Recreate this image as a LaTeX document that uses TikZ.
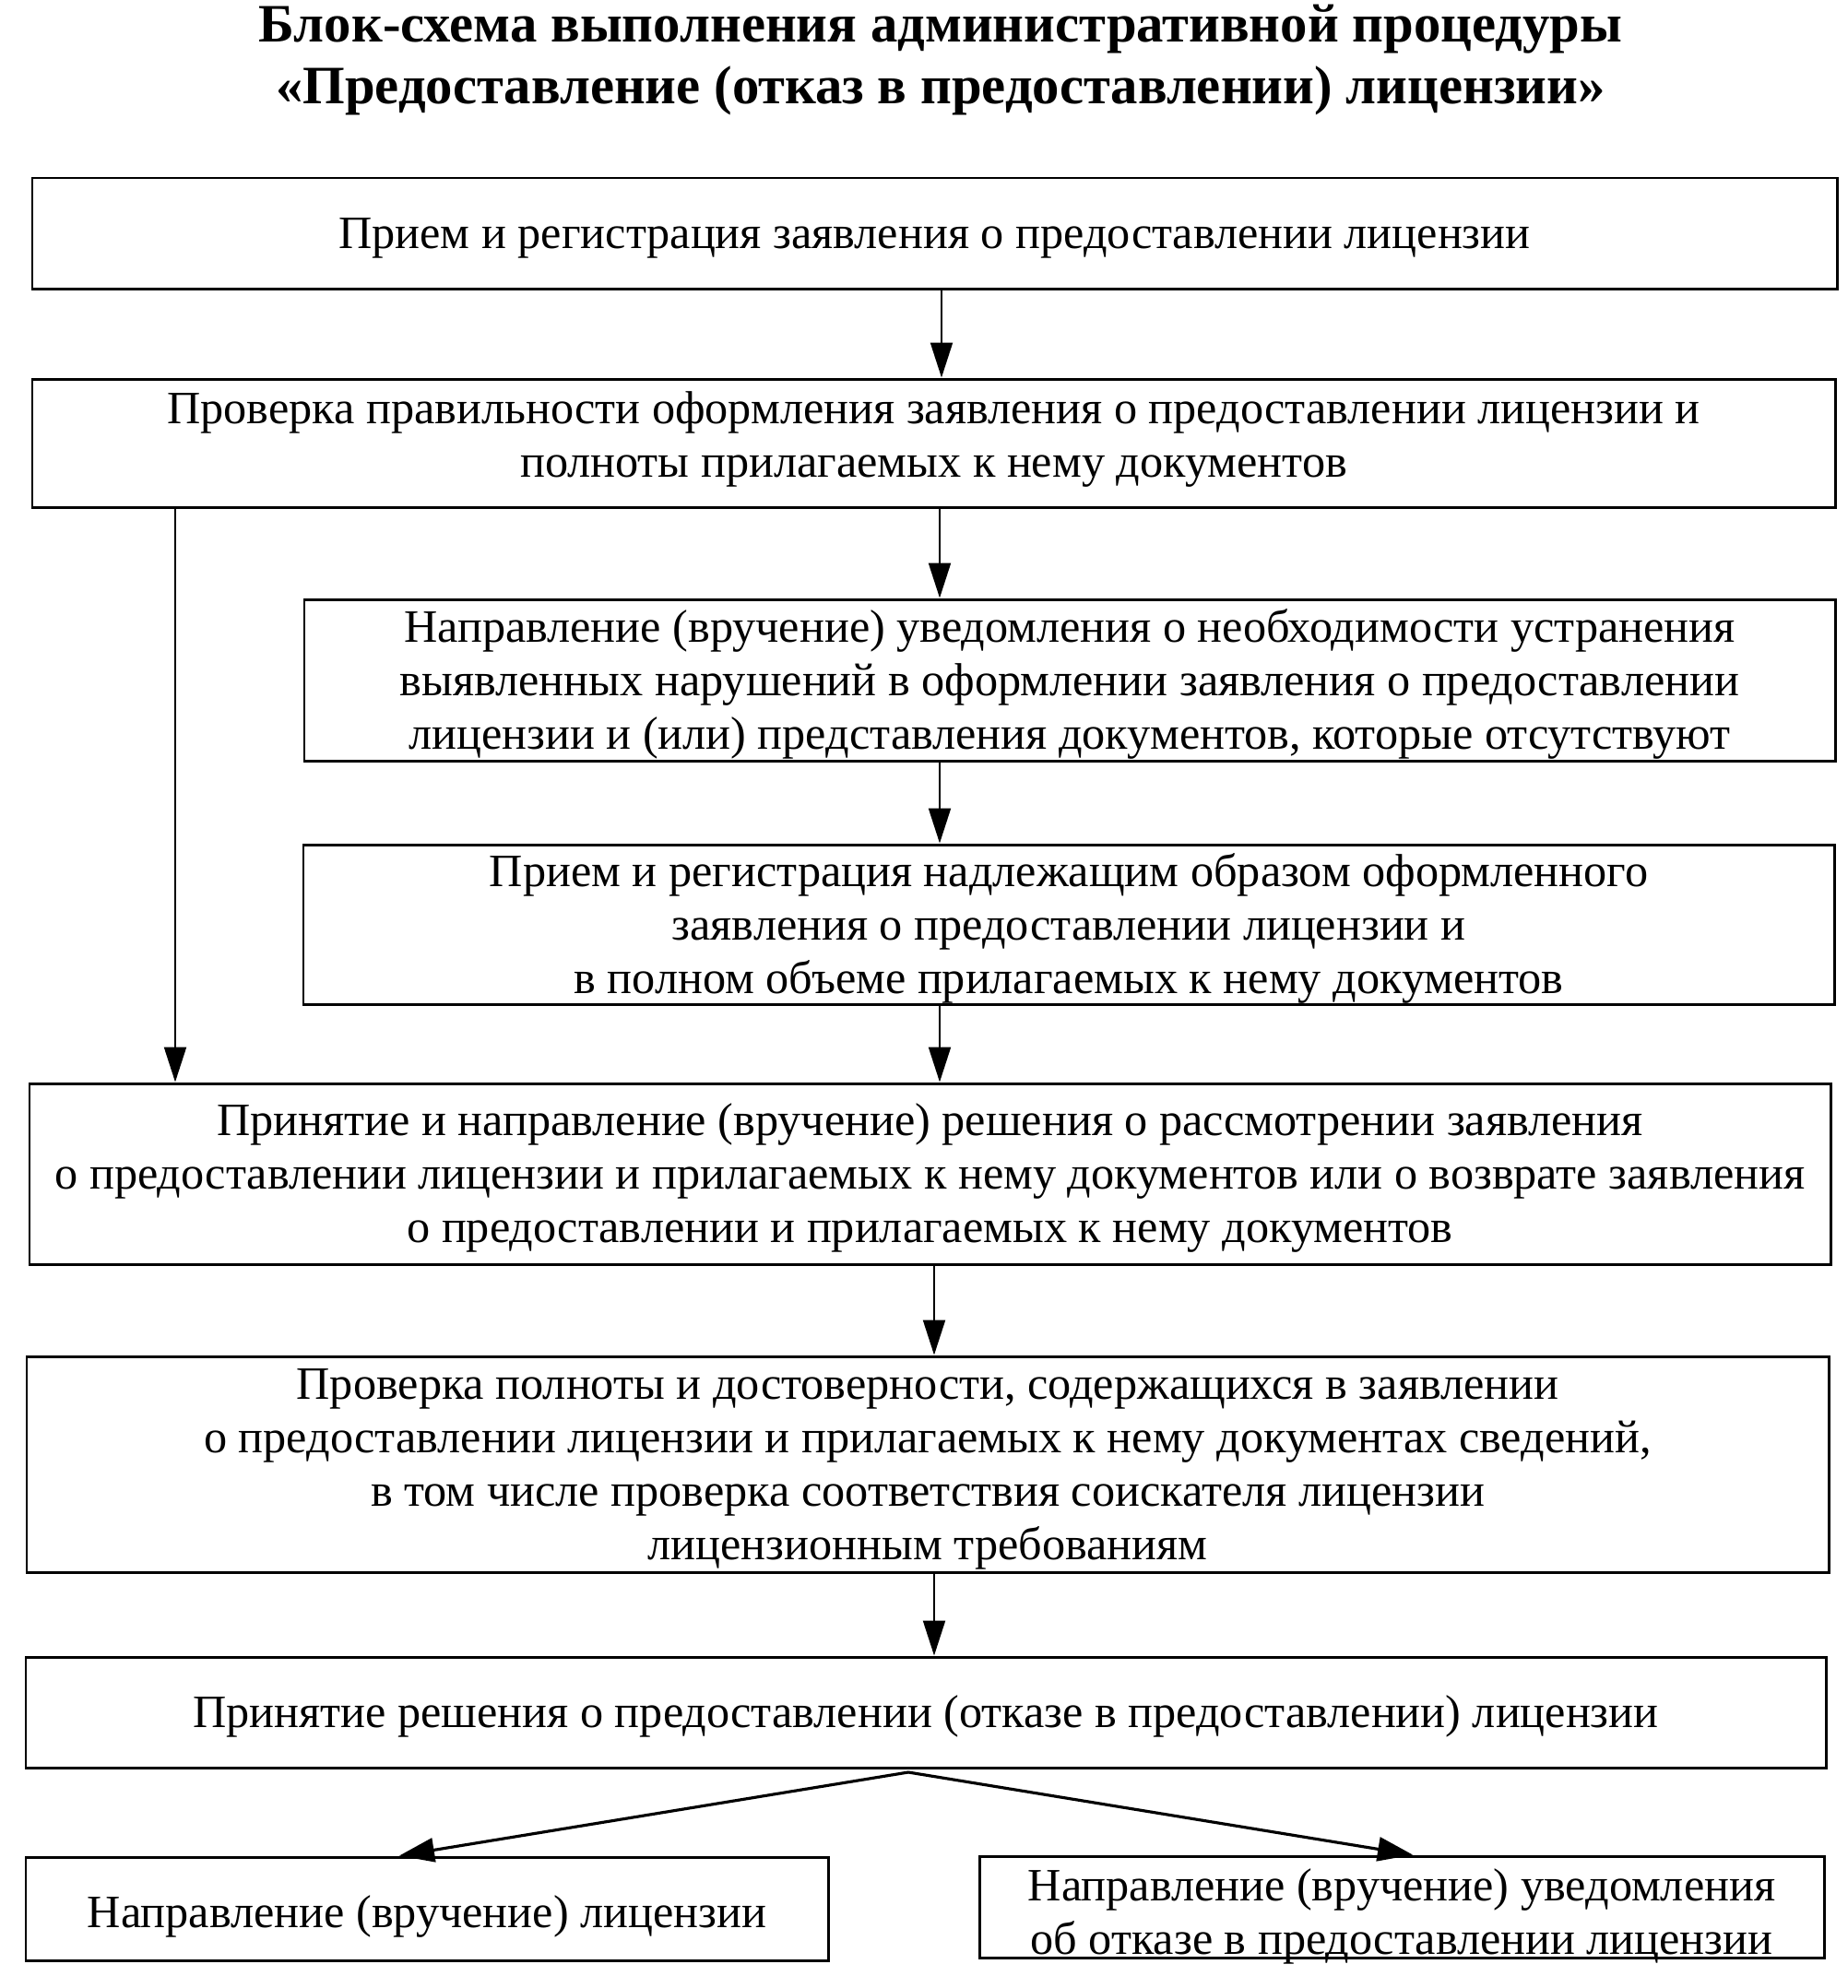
\documentclass[tikz,border=0pt]{standalone}
\usepackage{fontspec}
\setmainfont{Liberation Serif}
\usetikzlibrary{arrows.meta}
\tikzset{
  box/.style={draw, line width=0.85pt, inner sep=0pt},
  txt/.style={inner sep=0pt, align=center, font={\fontsize{14.3pt}{16.5pt}\selectfont}},
  arr/.style={draw, line width=0.6pt, -{Triangle[length=3.8mm,width=2.4mm]}},
  brarr/.style={draw, line width=0.9pt, -{Triangle[length=3.8mm,width=2.6mm]}},
  ttl/.style={align=center, inner sep=0pt, font={\bfseries\fontsize{16.7pt}{19pt}\selectfont}}
}
\begin{document}
\begin{tikzpicture}
\useasboundingbox (0,0) rectangle (20.03,-21.56);
\node[ttl] (title) at (10.2,-0.65) {Блок-схема выполнения административной процедуры\\«Предоставление (отказ в предоставлении) лицензии»};

\node[box, minimum width=19.57cm, minimum height=1.20cm] (b1) at (10.135,-2.53) {};
\node[box, minimum width=19.55cm, minimum height=1.39cm] (b2) at (10.125,-4.805) {};
\node[box, minimum width=16.60cm, minimum height=1.75cm] (b3) at (11.60,-7.375) {};
\node[box, minimum width=16.60cm, minimum height=1.73cm] (b4) at (11.59,-10.025) {};
\node[box, minimum width=19.53cm, minimum height=1.96cm] (b5) at (10.085,-12.73) {};
\node[box, minimum width=19.54cm, minimum height=2.34cm] (b6) at (10.06,-15.88) {};
\node[box, minimum width=19.52cm, minimum height=1.20cm] (b7) at (10.04,-18.57) {};
\node[box, minimum width=8.70cm, minimum height=1.12cm] (b8) at (4.63,-20.70) {};
\node[box, minimum width=9.16cm, minimum height=1.10cm] (b9) at (15.20,-20.68) {};

\node[txt] (t1) at ([yshift=-0.05cm]b1.center)
  {Прием и регистрация заявления о предоставлении лицензии};
\node[txt] (t2) at ([yshift=0.04cm]b2.center)
  {Проверка правильности оформления заявления о предоставлении лицензии и\\полноты прилагаемых к нему документов};
\node[txt] (t3) at ([yshift=-0.04cm]b3.center)
  {Направление (вручение) уведомления о необходимости устранения\\выявленных нарушений в оформлении заявления о предоставлении\\лицензии и (или) представления документов, которые отсутствуют};
\node[txt] (t4) at ([yshift=-0.04cm]b4.center)
  {Прием и регистрация надлежащим образом оформленного\\заявления о предоставлении лицензии и\\в полном объеме прилагаемых к нему документов};
\node[txt] (t5) at ([yshift=-0.04cm]b5.center)
  {Принятие и направление (вручение) решения о рассмотрении заявления\\о предоставлении лицензии и прилагаемых к нему документов или о возврате заявления\\о предоставлении и прилагаемых к нему документов};
\node[txt] (t6) at ([yshift=-0.05cm]b6.center)
  {Проверка полноты и достоверности, содержащихся в заявлении\\о предоставлении лицензии и прилагаемых к нему документах сведений,\\в том числе проверка соответствия соискателя лицензии\\лицензионным требованиям};
\node[txt] (t7) at ([yshift=-0.04cm]b7.center)
  {Принятие решения о предоставлении (отказе в предоставлении) лицензии};
\node[txt] (t8) at ([yshift=-0.08cm]b8.center)
  {Направление (вручение) лицензии};
\node[txt] (t9) at ([yshift=-0.10cm]b9.center)
  {Направление (вручение) уведомления\\об отказе в предоставлении лицензии};

\draw[arr] (b1.south -| 10.21,0) -- (b2.north -| 10.21,0);
\draw[arr] (b2.south -| 10.19,0) -- (b3.north -| 10.19,0);
\draw[arr] (b3.south -| 10.19,0) -- (b4.north -| 10.19,0);
\draw[arr] (b4.south -| 10.19,0) -- (b5.north -| 10.19,0);
\draw[arr] (b2.south -| 1.90,0) -- (b5.north -| 1.90,0);
\draw[arr] (b5.south -| 10.13,0) -- (b6.north -| 10.13,0);
\draw[arr] (b6.south -| 10.13,0) -- (b7.north -| 10.13,0);

\coordinate (apex) at (9.85,-19.22);
\draw[brarr] (apex) -- (b8.north -| 4.33,0);
\draw[brarr] (apex) -- (b9.north -| 15.32,0);
\end{tikzpicture}
\end{document}
